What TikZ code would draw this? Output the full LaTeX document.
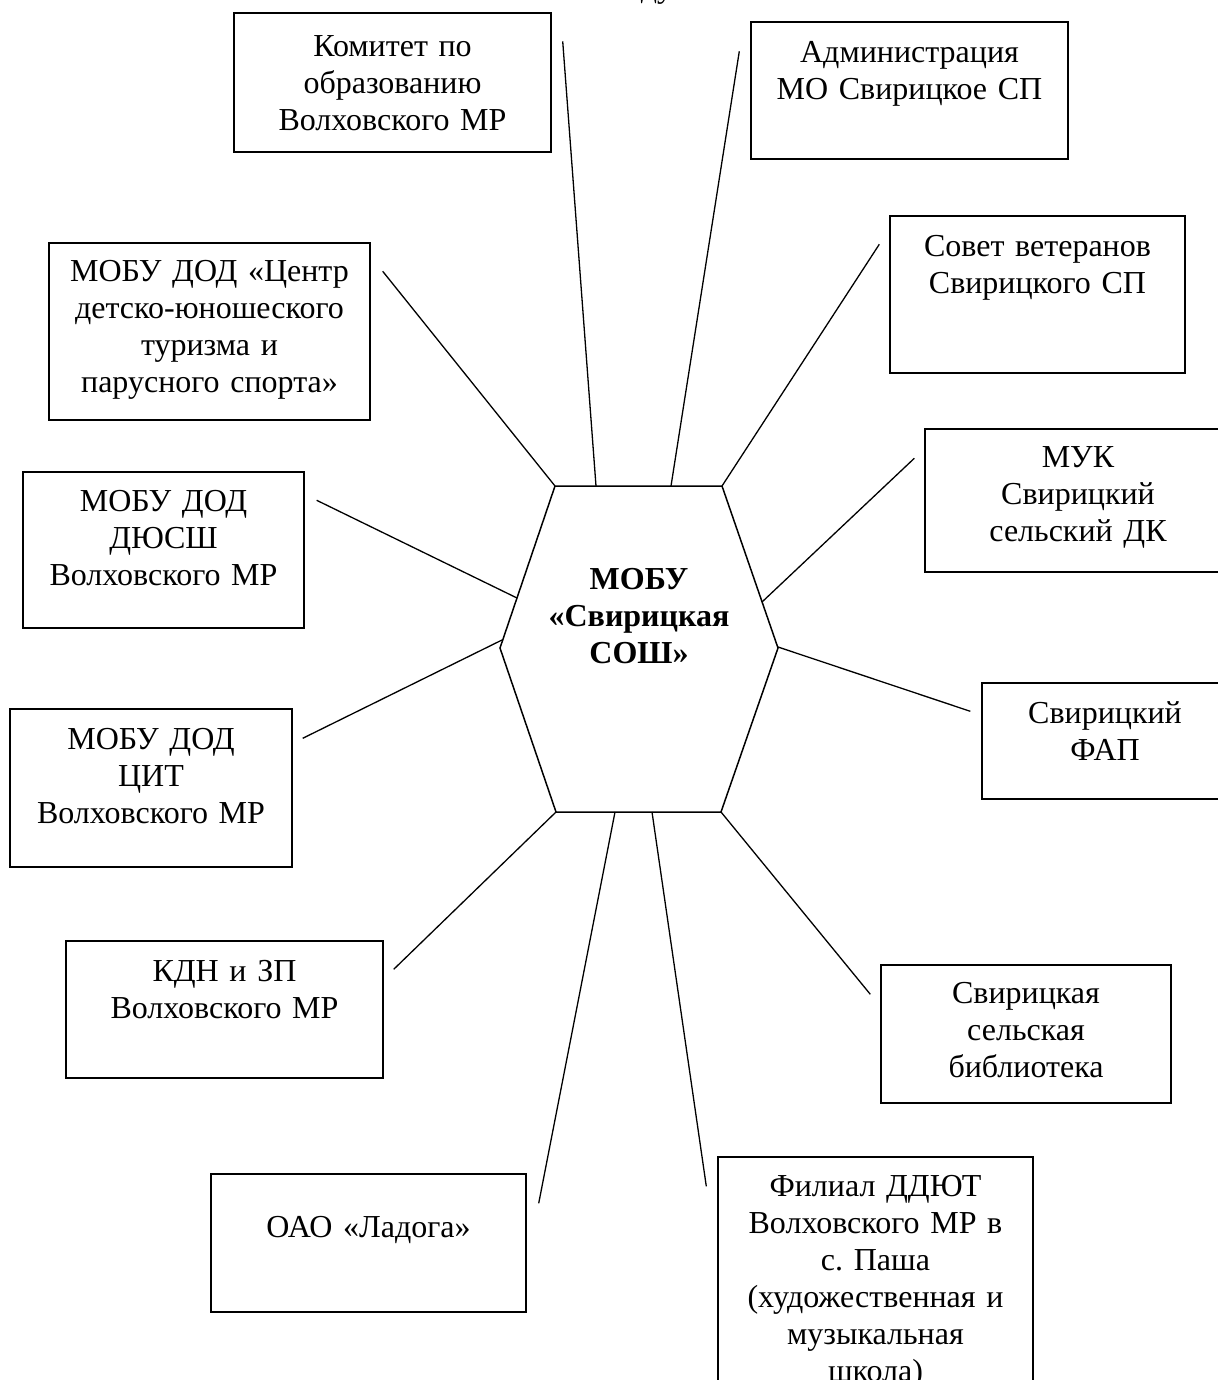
\documentclass[tikz,border=0pt]{standalone}
\usepackage{fontspec}
\setmainfont{Liberation Serif}
\frenchspacing

\begin{document}
\begin{tikzpicture}[x=0.5pt, y=-0.5pt,
  box/.style={draw, line width=0.7pt, inner sep=0pt},
  txt/.style={anchor=base, text width=150pt, align=center, inner sep=0pt, font=\fontsize{16pt}{18.5pt}\selectfont},
  link/.style={line width=0.65pt}]
\useasboundingbox (0,0) rectangle (1217,1380);

% what is left of the title above the page edge
\node[txt, text width=40pt] (title) at (657,-2) {ду};

% centre
\coordinate (sosh) at (639,649);
\draw[line width=0.75pt] ([shift={(-84,-163)}]sosh) -- ([shift={(83,-163)}]sosh) -- ([shift={(139,-1)}]sosh) -- ([shift={(82,163)}]sosh) -- ([shift={(-83,163)}]sosh) -- ([shift={(-139,-1)}]sosh) -- cycle;
\node[txt, font=\fontsize{16pt}{18.5pt}\selectfont\bfseries] (soshtxt) at (639,589) {МОБУ\\«Свирицкая\\СОШ»};

% partners
\node[box, minimum width=158.5pt, minimum height=69.5pt] (kom) at (392.5,82.5) {};
\node[box, minimum width=158.5pt, minimum height=68.5pt] (adm) at (909.5,90.5) {};
\node[box, minimum width=147.5pt, minimum height=78.5pt] (sov) at (1037.5,294.5) {};
\node[box, minimum width=153pt, minimum height=71.5pt] (muk) at (1078,500.5) {};
\node[box, minimum width=123pt, minimum height=58pt] (fap) at (1105,741) {};
\node[box, minimum width=145pt, minimum height=69pt] (lib) at (1026,1034) {};
\node[box, minimum width=157.5pt, minimum height=136.5pt] (fil) at (875.5,1293.5) {};
\node[box, minimum width=157.5pt, minimum height=69pt] (oao) at (368.5,1243) {};
\node[box, minimum width=158.5pt, minimum height=68.5pt] (kdn) at (224.5,1009.5) {};
\node[box, minimum width=141pt, minimum height=79pt] (cit) at (151,788) {};
\node[box, minimum width=140.5pt, minimum height=78pt] (dus) at (163.5,550) {};
\node[box, minimum width=160.5pt, minimum height=88.5pt] (cen) at (209.5,331.5) {};

\node[txt] (komtxt) at ([yshift=-22pt]kom.north) {Комитет по\\образованию\\Волховского МР};
\node[txt] (admtxt) at ([yshift=-20.5pt]adm.north) {Администрация\\МО Свирицкое СП};
\node[txt] (sovtxt) at ([yshift=-20.5pt]sov.north) {Совет ветеранов\\Свирицкого СП};
\node[txt] (muktxt) at ([yshift=-19.5pt]muk.north) {МУК\\Свирицкий\\сельский ДК};
\node[txt] (faptxt) at ([yshift=-20.5pt]fap.north) {Свирицкий\\ФАП};
\node[txt] (libtxt) at ([yshift=-19.5pt]lib.north) {Свирицкая\\сельская\\библиотека};
\node[txt] (filtxt) at ([yshift=-20pt]fil.north) {Филиал ДДЮТ\\Волховского МР в\\с. Паша\\(художественная и\\музыкальная\\школа)};
\node[txt] (oaotxt) at ([yshift=-32pt]oao.north) {ОАО «Ладога»};
\node[txt] (kdntxt) at ([yshift=-20.5pt]kdn.north) {КДН и ЗП\\Волховского МР};
\node[txt] (cittxt) at ([yshift=-20.5pt]cit.north) {МОБУ ДОД\\ЦИТ\\Волховского МР};
\node[txt] (dustxt) at ([yshift=-20pt]dus.north) {МОБУ ДОД\\ДЮСШ\\Волховского МР};
\node[txt] (centxt) at ([yshift=-19.5pt]cen.north) {МОБУ ДОД «Центр\\детско-юношеского\\туризма и\\парусного спорта»};

% links
\draw[link] ([shift={(-43,-163)}]sosh) -- ([shift={(11,29)}]kom.north east);
\draw[link] ([shift={(32,-163)}]sosh) -- ([shift={(-11,30)}]adm.north west);
\draw[link] ([shift={(-84,-163)}]sosh) -- ([shift={(12,29)}]cen.north east);
\draw[link] ([shift={(83,-163)}]sosh) -- ([shift={(-10,29)}]sov.north west);
\draw[link] ([shift={(-122,-51)}]sosh) -- ([shift={(12,29)}]dus.north east);
\draw[link] ([shift={(123,-47)}]sosh) -- ([shift={(-10,30)}]muk.north west);
\draw[link] ([shift={(-137,-9)}]sosh) -- ([shift={(10,30)}]cit.north east);
\draw[link] ([shift={(139,-2)}]sosh) -- ([shift={(-11,29)}]fap.north west);
\draw[link] ([shift={(-83,163)}]sosh) -- ([shift={(10,29)}]kdn.north east);
\draw[link] ([shift={(82,163)}]sosh) -- ([shift={(-10,30)}]lib.north west);
\draw[link] ([shift={(-24,163)}]sosh) -- ([shift={(12,30)}]oao.north east);
\draw[link] ([shift={(13,163)}]sosh) -- ([shift={(-11,30)}]fil.north west);
\end{tikzpicture}
\end{document}
